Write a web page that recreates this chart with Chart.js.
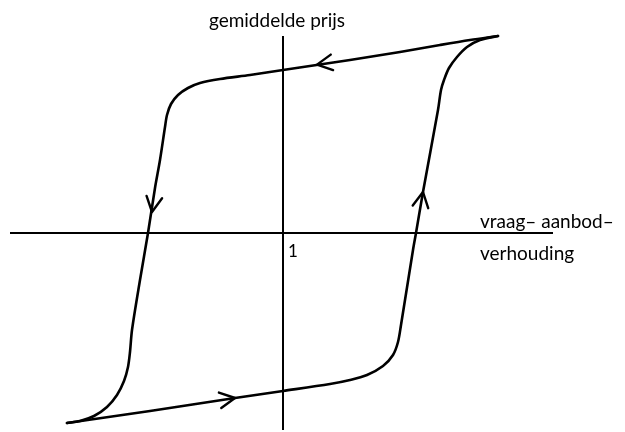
<!DOCTYPE html>
<html>
<head>
<meta charset="utf-8">
<script src="https://cdn.jsdelivr.net/npm/chart.js@4"></script>
<style>
html,body{margin:0;padding:0;background:#fff;}
#wrap{width:625px;height:432px;position:relative;}
</style>
</head>
<body>
<div id="wrap"><canvas id="c" width="625" height="432"></canvas></div>
<script>
// Axis titles and tick label
const yAxisTitle = 'gemiddelde prijs';
const xAxisTitle = ['vraag\u2013 aanbod\u2013', 'verhouding'];
const xTickLabels = ['1'];
const xTickValues = [1];

// Axis extents (ratio on x, price on y)
const xAxisX = [-0.365, 2.35];
const xAxisY = [0, 0];
const yAxisX = [1, 1];
const yAxisY = [1.97, -1.97];

// Falling branch: upper right tip -> top line -> left branch -> lower left tip
const fallX = [2.075, 1.935, 1.785, 1.585, 1.335, 1.0, 0.835, 0.685, 0.585, 0.525, 0.475, 0.44, 0.42, 0.41, 0.385, 0.36, 0.325, 0.285, 0.245, 0.235, 0.225, 0.205, 0.17, 0.12, 0.055, -0.015, -0.08];
const fallY = [1.97, 1.93, 1.88, 1.81, 1.73, 1.63, 1.58, 1.54, 1.50, 1.45, 1.38, 1.29, 1.18, 1.06, 0.73, 0.45, 0.0, -0.47, -0.97, -1.19, -1.34, -1.48, -1.62, -1.74, -1.83, -1.88, -1.90];

// Rising branch: lower left tip -> bottom line -> right branch -> upper right tip
const riseX = [-0.08, 0.335, 0.76, 1.0, 1.235, 1.335, 1.42, 1.50, 1.55, 1.575, 1.59, 1.65, 1.665, 1.70, 1.775, 1.79, 1.805, 1.83, 1.87, 1.92, 1.985, 2.075];
const riseY = [-1.90, -1.78, -1.65, -1.58, -1.51, -1.47, -1.42, -1.33, -1.22, -1.09, -0.92, -0.17, 0.0, 0.41, 1.23, 1.43, 1.53, 1.65, 1.76, 1.86, 1.93, 1.97];

// Direction arrows on the loop
const arrowX = [1.17, 0.345, 0.76, 1.70];
const arrowY = [1.684, 0.21, -1.65, 0.41];

const zip = (xs, ys) => xs.map((x, i) => ({x, y: ys[i]}));

const FONT = '"Lato", "Open Sans", sans-serif';

const arrowPlugin = {
  id: 'arrows',
  afterDatasetsDraw(chart) {
    const ctx = chart.ctx;
    const xs = chart.scales.x, ys = chart.scales.y;
    const curves = [zip(fallX, fallY), zip(riseX, riseY)];
    ctx.save();
    ctx.strokeStyle = '#000';
    ctx.lineWidth = 2.4;
    ctx.lineCap = 'round';
    ctx.lineJoin = 'round';
    arrowX.forEach((ax, i) => {
      const px = xs.getPixelForValue(ax), py = ys.getPixelForValue(arrowY[i]);
      let best = null, bestD = Infinity;
      curves.forEach(c => {
        for (let k = 0; k < c.length - 1; k++) {
          const x1 = xs.getPixelForValue(c[k].x), y1 = ys.getPixelForValue(c[k].y);
          const x2 = xs.getPixelForValue(c[k+1].x), y2 = ys.getPixelForValue(c[k+1].y);
          const dx = x2 - x1, dy = y2 - y1, L = dx*dx + dy*dy;
          let t = L ? ((px - x1)*dx + (py - y1)*dy) / L : 0;
          t = Math.max(0, Math.min(1, t));
          const qx = x1 + t*dx, qy = y1 + t*dy;
          const d = (qx - px)**2 + (qy - py)**2;
          if (d < bestD) { bestD = d; best = Math.atan2(dy, dx); }
        }
      });
      const len = 17, spread = 0.48;
      ctx.beginPath();
      ctx.moveTo(px - len*Math.cos(best - spread), py - len*Math.sin(best - spread));
      ctx.lineTo(px, py);
      ctx.lineTo(px - len*Math.cos(best + spread), py - len*Math.sin(best + spread));
      ctx.stroke();
    });
    ctx.restore();
  }
};

const labelPlugin = {
  id: 'labels',
  afterDraw(chart) {
    const ctx = chart.ctx;
    const xs = chart.scales.x, ys = chart.scales.y;
    ctx.save();
    ctx.fillStyle = '#000';
    // y axis title above the vertical axis
    ctx.font = '19px ' + FONT;
    ctx.textAlign = 'center';
    ctx.textBaseline = 'alphabetic';
    ctx.fillText(yAxisTitle, xs.getPixelForValue(yAxisX[0]) - 6, ys.getPixelForValue(yAxisY[0]) - 9);
    // x axis title, two lines near right end of horizontal axis
    const axR = xs.getPixelForValue(xAxisX[1]);
    const axY = ys.getPixelForValue(xAxisY[0]);
    ctx.textAlign = 'left';
    ctx.font = '19px ' + FONT;
    ctx.fillText(xAxisTitle[0], axR - 73, axY - 5);
    ctx.fillText(xAxisTitle[1], axR - 73, axY + 27);
    // tick labels
    ctx.font = '17px ' + FONT;
    xTickValues.forEach((v, i) => {
      ctx.fillText(xTickLabels[i], xs.getPixelForValue(v) + 5, axY + 24);
    });
    ctx.restore();
  }
};

const lineDs = (data, w) => ({
  data, showLine: true, borderColor: '#000', backgroundColor: '#000',
  borderWidth: w, pointRadius: 0, fill: false
});

new Chart(document.getElementById('c'), {
  type: 'scatter',
  data: {
    datasets: [
      lineDs(zip(xAxisX, xAxisY), 2),
      lineDs(zip(yAxisX, yAxisY), 2),
      Object.assign(lineDs(zip(fallX, fallY), 2.6), {tension: 0.3, borderCapStyle: 'round'}),
      Object.assign(lineDs(zip(riseX, riseY), 2.6), {tension: 0.3, borderCapStyle: 'round'})
    ]
  },
  options: {
    responsive: false,
    animation: false,
    layout: {padding: 0},
    plugins: {legend: {display: false}, tooltip: {enabled: false}, title: {display: false}},
    scales: {
      x: {type: 'linear', display: false, min: -0.415, max: 2.71},
      y: {type: 'linear', display: false, min: -1.99, max: 2.33}
    }
  },
  plugins: [arrowPlugin, labelPlugin]
});
</script>
</body>
</html>
